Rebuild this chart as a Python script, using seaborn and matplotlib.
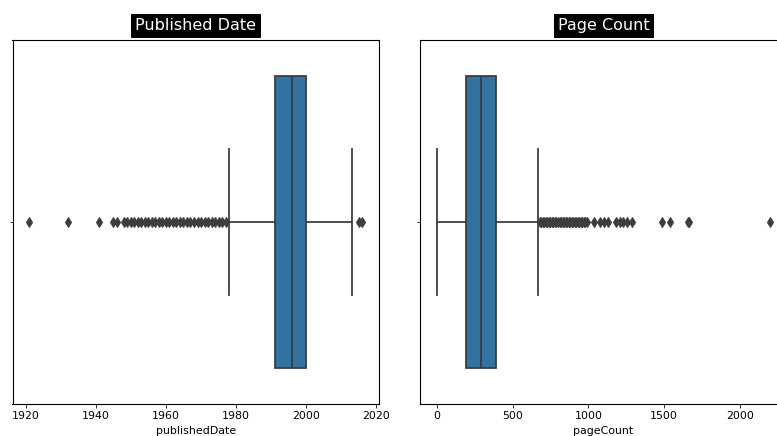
import numpy as np
import pandas as pd
import seaborn as sns
import matplotlib.pyplot as plt

# published year: outliers, whisker ends and the values that fix the box
date_low_outliers = [1921, 1932, 1941, 1945, 1946,
                     1948, 1949, 1950, 1951, 1952, 1953, 1954, 1955, 1956, 1957,
                     1958, 1959, 1960, 1961, 1962, 1963, 1964, 1965, 1966, 1967,
                     1968, 1969, 1970, 1971, 1972, 1973, 1974, 1975, 1976, 1977]
date_whiskers = [1978, 2013]
date_box_values = [1991, 1996, 2000]   # Q1, median, Q3
date_box_counts = [60, 60, 60]
date_high_outliers = [2015, 2016]

# page count
page_whiskers = [0, 665]
page_box_values = [195, 292, 388]
page_box_counts = [60, 60, 60]
page_outliers = [680, 690, 700, 710, 720, 730, 740, 750, 760, 770, 780, 790,
                 800, 810, 820, 830, 840, 850, 860, 870, 880, 890, 900, 910,
                 920, 930, 940, 950, 960, 970, 980, 992,
                 1036, 1080, 1106, 1128, 1185, 1207, 1230, 1256, 1289,
                 1486, 1536, 1660, 1664, 2200]

books = pd.DataFrame({
    'publishedDate': np.concatenate([date_low_outliers, date_whiskers,
                                     np.repeat(date_box_values, date_box_counts),
                                     date_high_outliers]).astype(float)
})
pages = pd.DataFrame({
    'pageCount': np.concatenate([page_whiskers,
                                 np.repeat(page_box_values, page_box_counts),
                                 page_outliers]).astype(float)
})

W, H = 777, 436
fig = plt.figure(figsize=(W / 72, H / 72), dpi=72)
ax1 = fig.add_axes([12.5 / W, (H - 404) / H, (379 - 12.5) / W, (404 - 40) / H])
ax2 = fig.add_axes([420 / W, (H - 404) / H, (787 - 420) / W, (404 - 40) / H])

flier = dict(marker='d', markerfacecolor='#3d3d3d', markeredgecolor='#3d3d3d')

sns.boxplot(x=books['publishedDate'], ax=ax1, color='#3274a1', saturation=1,
            fliersize=7, flierprops=flier, linecolor='#3d3d3d', linewidth=1.8)
sns.boxplot(x=pages['pageCount'], ax=ax2, color='#3274a1', saturation=1,
            fliersize=7, flierprops=flier, linecolor='#3d3d3d', linewidth=1.8)

title_box = dict(facecolor='black', edgecolor='black', pad=4)
for ax, title in [(ax1, 'Published Date'), (ax2, 'Page Count')]:
    ax.set_title(title, fontsize=16, color='white', bbox=title_box, pad=10)
    ax.set_yticks([0])
    ax.set_yticklabels([''])
    ax.set_ylim(0.5, -0.5)
    ax.tick_params(labelsize=11)
    ax.set_xlabel(ax.get_xlabel(), fontsize=11, labelpad=5)
    for s in ax.spines.values():
        s.set_linewidth(1.1)

fig.savefig('out.png', dpi=72)
